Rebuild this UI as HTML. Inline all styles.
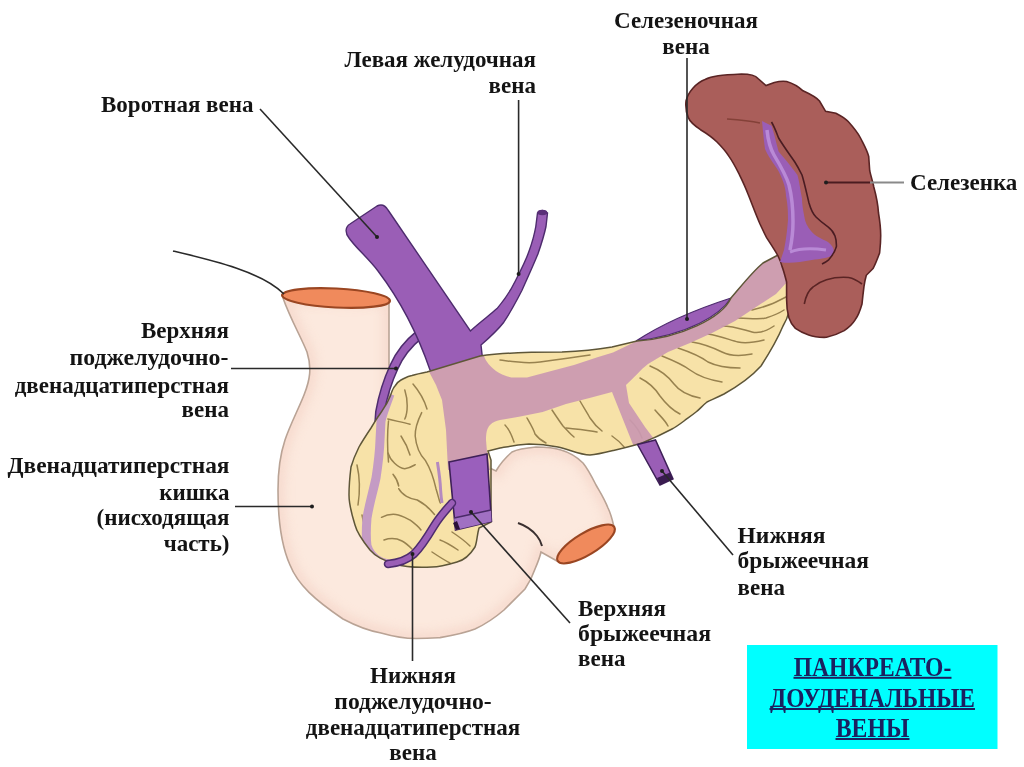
<!DOCTYPE html>
<html><head><meta charset="utf-8">
<style>
html,body{margin:0;padding:0;background:#fff;width:1024px;height:767px;overflow:hidden}
svg{display:block;filter:blur(0.6px)}
.t{font-family:"Liberation Serif",serif;font-weight:bold;font-size:23px;fill:#141414}
.c{font-family:"Liberation Serif",serif;font-weight:bold;font-size:27px;fill:#1b2160}
</style></head><body>
<svg width="1024" height="767" viewBox="0 0 1024 767">
<defs>
<clipPath id="pc"><path id="pcp" d="M427,372 L480,356 C500,353 540,352 562,352 C585,351 600,349 612,347 L637,341 C680,338 722,318 731,298 C738,290 752,272 763,263 L778,255 C784,262 789,275 791,292 C792,305 788,318 783,326 C778,338 770,352 761,366 C752,376 740,385 724,394 C716,398 711,400 707,402 C702,406 700,409 696,412 C691,416 688,418 684,421 C680,424 676,427 672,429 C668,431 664,433 660,435 C656,437 652,438.5 649,440 C645,442 641,443.5 637,444.5 C630,446.5 622,448.5 613.5,450.4 C605,452.5 597,454.5 590,455 C580,455 568,449 558,447 C548,445 538,444 529,444 C515,445 506,447 500,448 L488,451 L491,460 L491,522 L479,528 C477,535 477,542 475,547 C470,555 465,560 457,562 C447,565 440,567 432,567 C415,568 405,567 395,564 C383,560 376,557 370,550 C362,540 357,533 355,525 C351,512 349,503 349,495 C349,485 350,475 351,467 C353,460 356,453 359,447 C363,440 367,434 371,428 C374,423 377,418 380,414 C383,410 385,406 387,403 C389,399 390,397 391,394 C392,391 393,388 395,386 C397,383 399,381 401,380 C405,378 408,376 412,375.5 C417,374 422,373 427,372 Z"/></clipPath>
<clipPath id="dc"><path d="M283,298 C290,318 300,335 307,352 C312,368 310,380 304,395 C298,410 290,425 285,440 C280,455 278,470 278,490 C278,515 281,545 290,565 C298,585 315,600 343,619 C360,628 370,631 381,633 C395,637 405,638.5 416,638.5 C428,638.5 434,638 440,637.6 C455,635 465,633 475,629 C488,623 497,616 504,610 C514,600 520,594 525,589 C531,580 533,575 535,569 C538,562 540,557 541,552 L557,561 L614,527 C612,518 610,512 608,508 C604,498 600,492 596,485 C592,477 588,469 583,463 C575,455 568,452 561,450 C552,447 545,447 536,447 C525,448 518,449 512,452 C505,458 500,464 496,471 L430,440 L389,420 L389,300 Z"/></clipPath>
<filter id="bl" x="-10%" y="-10%" width="120%" height="120%"><feGaussianBlur stdDeviation="5"/></filter>
</defs>

<!-- duodenum -->
<path d="M283,298 C290,318 300,335 307,352 C312,368 310,380 304,395 C298,410 290,425 285,440 C280,455 278,470 278,490 C278,515 281,545 290,565 C298,585 315,600 343,619 C360,628 370,631 381,633 C395,637 405,638.5 416,638.5 C428,638.5 434,638 440,637.6 C455,635 465,633 475,629 C488,623 497,616 504,610 C514,600 520,594 525,589 C531,580 533,575 535,569 C538,562 540,557 541,552 L557,561 L614,527 C612,518 610,512 608,508 C604,498 600,492 596,485 C592,477 588,469 583,463 C575,455 568,452 561,450 C552,447 545,447 536,447 C525,448 518,449 512,452 C505,458 500,464 496,471 L430,440 L389,420 L389,300 Z" fill="#fce9de" stroke="none"/>
<g clip-path="url(#dc)"><path d="M283,298 C290,318 300,335 307,352 C312,368 310,380 304,395 C298,410 290,425 285,440 C280,455 278,470 278,490 C278,515 281,545 290,565 C298,585 315,600 343,619 C360,628 370,631 381,633 C395,637 405,638.5 416,638.5 C428,638.5 434,638 440,637.6 C455,635 465,633 475,629 C488,623 497,616 504,610 C514,600 520,594 525,589 C531,580 533,575 535,569 C538,562 540,557 541,552 L557,561 L614,527 C612,518 610,512 608,508 C604,498 600,492 596,485 C592,477 588,469 583,463 C575,455 568,452 561,450 C552,447 545,447 536,447 C525,448 518,449 512,452 C505,458 500,464 496,471 L430,440 L389,420 L389,300 Z" fill="none" stroke="#f4d3c6" stroke-width="14" filter="url(#bl)" opacity="0.6"/></g>
<path d="M283,298 C290,318 300,335 307,352 C312,368 310,380 304,395 C298,410 290,425 285,440 C280,455 278,470 278,490 C278,515 281,545 290,565 C298,585 315,600 343,619 C360,628 370,631 381,633 C395,637 405,638.5 416,638.5 C428,638.5 434,638 440,637.6 C455,635 465,633 475,629 C488,623 497,616 504,610 C514,600 520,594 525,589 C531,580 533,575 535,569 C538,562 540,557 541,552 L557,561 L614,527 C612,518 610,512 608,508 C604,498 600,492 596,485 C592,477 588,469 583,463 C575,455 568,452 561,450 C552,447 545,447 536,447 C525,448 518,449 512,452 C505,458 500,464 496,471 L430,440 L389,420 L389,300 Z" fill="none" stroke="#b9a395" stroke-width="1.6"/>
<path d="M518,523 C527,526 533,531 537,536 C539.5,539 541,542 542,546" fill="none" stroke="#3a3030" stroke-width="2"/>

<!-- superior PD vein (outside) -->
<path d="M420,334 C410,342 400,353 394,367 C388,380 383,395 380,412 L378,440" fill="none" stroke="#4e2c6e" stroke-width="10"/>
<path d="M420,334 C410,342 400,353 394,367 C388,380 383,395 380,412 L378,440" fill="none" stroke="#9a5eb6" stroke-width="7"/>

<!-- portal + left gastric -->
<path d="M349,238 C345,233 345,227 350,224 L377,206 C381,204 385,205 388,210 L470.4,331 C480,322 490,315 497,308.6 C505,299 511,290 515.2,281.2 C521,270 526,260 528.9,251.6 C532,243 534.5,234 535.8,226.5 L537.5,213 Q542,208 547.5,213 L546,226.5 C544,236 541,245 538,253.8 C533,266 527,279 522,290.3 C516,302 510,313 503.8,322.2 C497,331 489,338 481,345 L482,354 L486,380 L440,385 L430,370 C418,335 400,300 378,271 C368,258 356,248 349,238 Z" fill="#9a5eb6" stroke="#4e2c6e" stroke-width="1.4"/>
<ellipse cx="542.3" cy="212.5" rx="5" ry="2.8" fill="#5a2e78"/>
<!-- splenic vein dark lens -->
<path d="M636,341 C665,322 700,308 731,298 C720,315 690,334 636,341 Z" fill="#9a5eb6" stroke="#4e2c6e" stroke-width="1.3"/>

<!-- pancreas -->
<use href="#pcp" fill="#f7e2a8"/>
<g clip-path="url(#pc)">
  <!-- lobule lines (under translucent) -->
  <g fill="none" stroke="#98824f" stroke-width="1.5" stroke-linecap="round">
    <!-- head -->
    <path d="M404.8,390 C408,400 408,412 404.8,419"/>
    <path d="M387.8,419 C395,421 402,422 410,424.3"/>
    <path d="M421.7,412.6 C418,420 415,430 415.2,436 C416,445 420,455 425.6,460.8 C430,468 433,475 436,488.7 C438,495 439,500 440.3,503"/>
    <path d="M388,453 C390,460 398,468 404.8,468.7 C410,468 413,466 415.2,464.7"/>
    <path d="M388.5,421 C387,435 387.5,450 388.5,462"/>
    <path d="M398.7,488.7 C402,495 410,499 417.3,500 C423,503 430,509 434.5,514.5"/>
    <path d="M393,474.3 C396,478 398,482 398.7,486"/>
    <path d="M413,384 C419,391 424,399 427,409"/>
    <path d="M381.5,517.3 C386,515 391,514 395.8,514.5 C401,515 406,518 410.2,520.2 C414,523 418,526 421,530"/>
    <path d="M384,540 C390,538 396,538 402,541 C406,543 409,546 412,549"/>
    <path d="M440,540 C446,542 452,546 458,550"/>
    <path d="M432,552 C438,556 444,560 450,563"/>
    <path d="M452,532 C458,536 464,540 470,546"/>
    <path d="M357,465 C360,478 360,492 358,505"/>
    <path d="M362,515 C364,525 366,532 368,540"/>
    <path d="M401,436 C405,442 408,448 410,455"/>
    <!-- body upper strip -->
    <path d="M500,360 C515,362 525,364 540,362 C555,360 570,358 590,355"/>
    <!-- body lower part -->
    <path d="M527,418 C531,425 534,430 535,434 C538,438 542,441 546,443"/>
    <path d="M552,410 C556,416 560,422 563,426 C567,430 570,434 574,437"/>
    <path d="M580,401 C584,408 588,414 590,418 C594,424 598,428 602,431"/>
    <path d="M566,428 C575,429 588,430 597,432"/>
    <path d="M505,425 C510,430 512,436 514,442"/>
    <!-- body right of IMV -->
    <path d="M640,378 C648,382 655,388 660,396 C666,404 672,410 680,414"/>
    <path d="M650,366 C660,370 668,376 674,384 C680,392 690,396 700,398"/>
    <path d="M662,356 C672,360 682,364 690,370 C698,376 710,380 722,382"/>
    <path d="M678,348 C690,352 700,356 708,362 C716,366 728,368 740,368"/>
    <path d="M692,342 C704,344 714,348 722,352 C730,356 742,356 752,354"/>
    <path d="M708,334 C720,336 730,340 738,342 C746,344 756,342 764,340"/>
    <path d="M722,326 C734,326 744,330 752,332 C760,334 768,330 774,326"/>
    <path d="M738,318 C748,318 758,320 766,318 C772,316 778,314 784,310"/>
    <path d="M752,310 C760,308 768,306 776,302 C780,300 784,298 788,296"/>
    <path d="M630,420 C636,426 640,432 642,438"/>
    <path d="M655,410 C660,416 665,420 668,426"/>
    <path d="M612,436 C618,440 622,444 626,449"/>
  </g>
  <!-- translucent veins -->
  <path d="M426,366 L436,385 L442,400 L446,430 L448,470 L490,470 L487,452 L486,440 C486,433 487,428 490,425 C493,422 496,421 500,420 L519,416.7 L542.6,412 L566,404 L589.5,397.9 L612,392 L636,452 L660,447 L645,427 L629,403 L626,385 C634,378 640,370 648,364 L668,352 L690,343 L712,333 L735,321 L756,307 L776,294 L788,281 L800,250 L760,250 L731,298 C722,318 680,338 637,341 L613,352.5 L597.4,357.2 L574,365 L550.4,371.3 L527,377.6 L511.3,377.6 C505,376 500,374 496,371 C490,366 486,362 484,356 L480,350 Z" fill="#ca99b0" opacity="0.93"/>
  <!-- lavender PD vein inside head -->
  <path d="M390,394 C387,403 383,412 381,421 L380,440 C379.5,455 378,465 376,478 C373,492 369,505 367,518 C366,530 366,538 367,546 C369,552 372,556 376,559 C380,562 383,563 388,564" fill="none" stroke="#c49bc4" stroke-width="9"/>
  <path d="M437.4,462 C439,472 440.3,482 440.6,490 C441,496 441.5,500 442,503" fill="none" stroke="#b58ac0" stroke-width="3"/>
</g>
<use href="#pcp" fill="none" stroke="#5e5638" stroke-width="1.5"/>

<!-- SMV dark -->
<path d="M449,462 L487,454 L491.5,521.5 L455.5,530 Z" fill="#9a5fbc" stroke="#3e2058" stroke-width="1.6"/>
<path d="M454,518 L491,510 L491.5,521.5 L455.5,530 Z" fill="#a070c2"/>
<path d="M454,518 L491,510" stroke="#4a2a68" stroke-width="1.5"/>
<path d="M453,523 L456,530 L460,529 L457,521 Z" fill="#2a1038"/>
<!-- IPDV dark -->
<path d="M452,503 C446,510 440,516 434,526 C428,536 422,546 414,554 C406,561 398,563 388,564" fill="none" stroke="#4e2c6e" stroke-width="8.5" stroke-linecap="round"/>
<path d="M452,503 C446,510 440,516 434,526 C428,536 422,546 414,554 C406,561 398,563 388,564" fill="none" stroke="#9a5eb6" stroke-width="5.5" stroke-linecap="round"/>
<!-- IMV dark -->
<path d="M637.5,444.5 L655.5,440 L673,479 L660,485 Z" fill="#9a5eb6" stroke="#3e2058" stroke-width="1.5"/>
<path d="M657,478 L670,472.5 L673,479 L660,485 Z" fill="#3a1c50"/>

<!-- orange ends -->
<ellipse cx="336" cy="298" rx="54" ry="9.5" transform="rotate(3 336 298)" fill="#f08a5c" stroke="#9a4622" stroke-width="2.2"/>
<ellipse cx="586" cy="544" rx="33" ry="11" transform="rotate(-31 586 544)" fill="#f08a5c" stroke="#9a4622" stroke-width="2.2"/>

<!-- spleen -->
<path d="M686,101 C688,92 696,83 705,79.5 C712,76 721,75 741.5,74 C750,74 756,76 758,78.5 L766,85.6 L774.3,82.6 C780,81 784,81 786.6,81.5 C795,84 800,88 803,90.8 C810,94 816,97 819.5,101 L825.6,111.3 L835.9,113.3 C841,116 845,118 848.2,121.5 C854,128 858,133 860.5,138 C864,145 867,150 868.7,156.4 L869.7,170.7 C871,177 873,182 873.8,187 C876,195 878,205 878.5,213 C880,222 880.7,230 880.7,235.4 C880.7,243 880,249 879.6,253 C877,260 875,265 873,268.6 L866.3,275.3 C865,280 864.5,283 864,286.3 C863,294 862.5,299 862,304 C860,311 858,316 855.3,319.6 C852,325 848,328 844.2,330.6 C838,334 832,336 826.5,337.3 C820,337.5 814,337 808.7,335 C803,333 799,331 795.4,328.4 C792,325 790,321 788.8,317.4 C787,311 786.6,305 786.6,299.6 L786.6,282 C785,276 783.5,270 782,266.4 C781,262 779,258 777.7,255.3 C774,249 770,243 766.6,237.6 C764,233 762,228 760,224 C756,215 752,204 747.7,193.3 C745,186 742,180 739.5,174.8 C736,168 733,162 729,156.4 C725,150 721,146 717,142 C712,137 706,133 700.5,129.7 C695,126 690,122 688.2,117.4 C686,112 685.5,106 686,101 Z" fill="#aa5e5a" stroke="#5a2424" stroke-width="1.6"/>
<path d="M804.3,304 C806,295 809,290 813,287 C818,283 822,281 826.5,279.7 C834,277.5 842,277 848.6,277.5 C854,278.5 858,281 862,284" fill="none" stroke="#5a2424" stroke-width="1.6"/>
<path d="M762,121 C763,132 764,142 765,149 C770,160 776,166 779,172 C784,182 786,190 786,196 C788,206 788,214 788,220 C787,232 786,240 784,250 L780,262 C790,264 800,262 812,260 C820,259 828,258 833,255 C835,250 833,246 828,242 C822,239 815,236 811,231 C807,226 805,222 804.4,217 C803,210 802,204 802,198.6 C800,188 799,180 797.4,175 C790,165 784,158 778.6,151.6 C776,142 774,133 771.5,125.8 Z" fill="#9a5eb6"/>
<path d="M767,130 C768,140 770,148 774,155 C780,165 786,175 789,185 C792,197 793,210 793,222 C793,232 792,240 790,250" fill="none" stroke="#b98ad6" stroke-width="3.5"/>
<path d="M790,252 C800,248 812,248 826,250" fill="none" stroke="#b98ad6" stroke-width="3"/>
<path d="M771.5,122 C775,128 777,134 778.6,138 C784,147 790,155 794.8,162 C798,167 800,171 802,175 C805,185 807,195 809,203 C811,210 813,214 816,217 C820,221 824,224 828,226.8 C831,229 833.5,232 835,236 C836.5,240 836.5,243 836.4,246.5 C835,252 832,256 828.7,259.8 C826,262 824,263 822,264" fill="none" stroke="#4a1c22" stroke-width="1.6"/>
<path d="M727,119 C740,120 750,121 760,123" fill="none" stroke="#7a3a30" stroke-width="1.4" opacity="0.8"/>

<!-- leader lines -->
<g stroke="#2a2a2a" stroke-width="1.6" fill="none">
<line x1="260" y1="109" x2="377" y2="237"/>
<line x1="518.6" y1="100" x2="518.6" y2="274"/>
<line x1="687" y1="58" x2="687" y2="319"/>
<line x1="231" y1="368.5" x2="396" y2="368.5"/>
<line x1="235" y1="506.5" x2="312" y2="506.5"/>
<line x1="412.5" y1="553" x2="412.5" y2="661"/>
<line x1="471" y1="512" x2="570" y2="623"/>
<line x1="662" y1="471" x2="733" y2="555"/>
<path d="M173,251 C215,261 262,272 284,294"/>
</g>
<line x1="826" y1="182.5" x2="870" y2="182.5" stroke="#4a1c20" stroke-width="2"/>
<line x1="870" y1="182.5" x2="904" y2="182.5" stroke="#8a8a8a" stroke-width="2.2"/>

<g fill="#1e1e1e"><circle cx="312" cy="506.5" r="2"/><circle cx="377" cy="237" r="2"/><circle cx="396" cy="368.5" r="2"/><circle cx="518.6" cy="274" r="2"/><circle cx="687" cy="319" r="2"/><circle cx="826" cy="182.5" r="2"/><circle cx="471" cy="512" r="2"/><circle cx="662" cy="471" r="2"/><circle cx="412.5" cy="554" r="2"/></g>
<!-- labels -->
<g class="t">
<text x="686" y="28" text-anchor="middle">Селезеночная</text>
<text x="686" y="53.5" text-anchor="middle">вена</text>
<text x="536" y="67" text-anchor="end">Левая желудочная</text>
<text x="536" y="92.5" text-anchor="end">вена</text>
<text x="101" y="111.5">Воротная вена</text>
<text x="910" y="189.5">Селезенка</text>
<text x="229" y="338" text-anchor="end">Верхняя</text>
<text x="228.5" y="364.5" text-anchor="end" textLength="159" lengthAdjust="spacingAndGlyphs">поджелудочно-</text>
<text x="229" y="392.5" text-anchor="end">двенадцатиперстная</text>
<text x="229" y="416.5" text-anchor="end">вена</text>
<text x="229.5" y="473" text-anchor="end" textLength="222" lengthAdjust="spacingAndGlyphs">Двенадцатиперстная</text>
<text x="229.5" y="499.5" text-anchor="end">кишка</text>
<text x="229.5" y="525" text-anchor="end">(нисходящая</text>
<text x="229.5" y="550.5" text-anchor="end">часть)</text>
<text x="737.5" y="543" textLength="88" lengthAdjust="spacingAndGlyphs">Нижняя</text>
<text x="737.5" y="568" textLength="131.5" lengthAdjust="spacingAndGlyphs">брыжеечная</text>
<text x="737.5" y="594.5">вена</text>
<text x="578" y="616">Верхняя</text>
<text x="578" y="641" textLength="133" lengthAdjust="spacingAndGlyphs">брыжеечная</text>
<text x="578" y="666">вена</text>
<text x="413" y="683" text-anchor="middle">Нижняя</text>
<text x="413" y="709" text-anchor="middle" textLength="157.5" lengthAdjust="spacingAndGlyphs">поджелудочно-</text>
<text x="413" y="735" text-anchor="middle">двенадцатиперстная</text>
<text x="413" y="760" text-anchor="middle">вена</text>
</g>

<!-- cyan box -->
<rect x="747" y="645" width="250.5" height="104" fill="#00ffff"/>
<g class="c">
<text x="872.5" y="676" text-anchor="middle" textLength="157.5" lengthAdjust="spacingAndGlyphs">ПАНКРЕАТО-</text>
<text x="872.5" y="706.5" text-anchor="middle" textLength="205" lengthAdjust="spacingAndGlyphs">ДОУДЕНАЛЬНЫЕ</text>
<text x="872.5" y="736.5" text-anchor="middle" textLength="73.5" lengthAdjust="spacingAndGlyphs">ВЕНЫ</text>
</g>
<g fill="#1b2160">
<rect x="793.5" y="676.8" width="158" height="2"/>
<rect x="769.5" y="708" width="205.5" height="2"/>
<rect x="835.5" y="738" width="74" height="2"/>
</g>
</svg>
</body></html>
